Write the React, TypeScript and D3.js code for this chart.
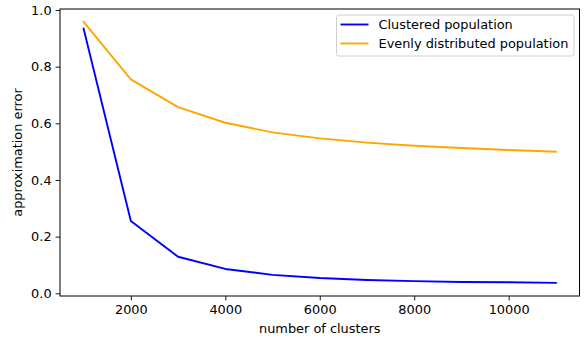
import React, { useEffect, useRef } from 'react';
import * as d3 from 'd3';

// number of clusters on the x axis
const clusters = [1000, 2000, 3000, 4000, 5000, 6000, 7000, 8000, 9000, 10000, 11000];
// approximation error
const clusteredError = [0.934, 0.255, 0.129, 0.086, 0.065, 0.054, 0.047, 0.043, 0.040, 0.039, 0.037];
const evenError = [0.958, 0.755, 0.657, 0.602, 0.568, 0.547, 0.532, 0.521, 0.513, 0.506, 0.500];
const xTicks = [2000, 4000, 6000, 8000, 10000];
const yTicks = [0, 0.2, 0.4, 0.6, 0.8, 1.0];

const seriesNames = ['Clustered population', 'Evenly distributed population'];
const seriesColors = ['#0000ff', '#ffa500'];

const App = () => {
    const ref = useRef<SVGSVGElement>(null);

    useEffect(() => {
        const width = 587;
        const height = 339;
        const margin = { top: 9, right: 7.5, bottom: 43, left: 60 };
        const font = 'DejaVu Sans, sans-serif';
        const fs = 12.9;

        const svg = d3.select(ref.current);
        svg.selectAll('*').remove();

        const x = d3.scaleLinear()
            .domain([500, 11500])
            .range([margin.left, width - margin.right]);

        const y = d3.scaleLinear()
            .domain([-0.0095, 1.0035])
            .range([height - margin.bottom, margin.top]);

        // x axis
        const gx = svg.append('g')
            .attr('transform', `translate(0,${height - margin.bottom})`)
            .call(d3.axisBottom(x).tickValues(xTicks).tickFormat(d3.format('d')).tickSizeOuter(0).tickSize(4.4).tickPadding(4));
        gx.select('.domain').remove();

        // y axis
        const gy = svg.append('g')
            .attr('transform', `translate(${margin.left},0)`)
            .call(d3.axisLeft(y).tickValues(yTicks).tickFormat(d3.format('.1f')).tickSizeOuter(0).tickSize(4.4).tickPadding(4));
        gy.select('.domain').remove();

        svg.selectAll('.tick text')
            .attr('font-family', font)
            .attr('font-size', fs)
            .attr('fill', '#000');
        svg.selectAll('.tick line').attr('stroke', '#000').attr('stroke-width', 0.9);

        // lines
        const series = [clusteredError, evenError];
        const line = d3.line<number>()
            .x((d, i) => x(clusters[i]))
            .y(d => y(d));

        series.forEach((s, k) => {
            svg.append('path')
                .datum(s)
                .attr('fill', 'none')
                .attr('stroke', seriesColors[k])
                .attr('stroke-width', 1.9)
                .attr('stroke-linejoin', 'round')
                .attr('stroke-linecap', 'square')
                .attr('d', line);
        });

        // frame
        svg.append('rect')
            .attr('x', margin.left)
            .attr('y', margin.top)
            .attr('width', width - margin.left - margin.right)
            .attr('height', height - margin.top - margin.bottom)
            .attr('fill', 'none')
            .attr('stroke', '#000')
            .attr('stroke-width', 1);

        // axis labels
        svg.append('text')
            .attr('x', (margin.left + width - margin.right) / 2)
            .attr('y', 333)
            .attr('text-anchor', 'middle')
            .attr('font-family', font)
            .attr('font-size', fs)
            .text('number of clusters');

        svg.append('text')
            .attr('transform', `translate(22,${(margin.top + height - margin.bottom) / 2}) rotate(-90)`)
            .attr('text-anchor', 'middle')
            .attr('font-family', font)
            .attr('font-size', fs)
            .text('approximation error');

        // legend
        const lg = svg.append('g').attr('transform', 'translate(336.5,15)');
        lg.append('rect')
            .attr('width', 237.5)
            .attr('height', 41)
            .attr('rx', 2.5)
            .attr('fill', 'rgba(255,255,255,0.8)')
            .attr('stroke', '#d0d0d0')
            .attr('stroke-width', 1);

        seriesNames.forEach((name, k) => {
            const cy = 9.5 + k * 19;
            lg.append('line')
                .attr('x1', 4)
                .attr('x2', 32)
                .attr('y1', cy)
                .attr('y2', cy)
                .attr('stroke', seriesColors[k])
                .attr('stroke-width', 1.9);
            lg.append('text')
                .attr('x', 42)
                .attr('y', cy + 4.6)
                .attr('font-family', font)
                .attr('font-size', fs)
                .text(name);
        });
    }, []);

    return (
        <svg ref={ref} width={587} height={339}
            style={{ position: 'absolute', left: 0, top: 0, background: '#fff' }} />
    );
};

export default App;
